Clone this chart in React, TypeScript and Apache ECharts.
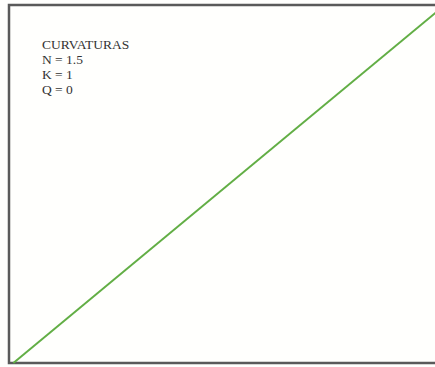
import React, { useEffect, useRef } from "react";
import * as echarts from "echarts";

// Curve points (normalised x, y)
const xValues = [0.01, 1];
const yValues = [0, 1];

// Annotation lines in the upper-left corner
const labelLines = ["CURVATURAS", "N = 1.5", "K = 1", "Q = 0"];

export default function App() {
  const ref = useRef<HTMLDivElement>(null);

  useEffect(() => {
    if (!ref.current) return;
    document.body.style.margin = "0";
    const chart = echarts.init(ref.current, null, { renderer: "svg" });
    const data = xValues.map((x, i) => [x, yValues[i]]);
    chart.setOption({
      animation: false,
      backgroundColor: "#fffffd",
      grid: {
        left: 9,
        top: 5,
        width: 436,
        height: 358,
        show: true,
        borderColor: "#5a5a5a",
        borderWidth: 2.5,
        backgroundColor: "transparent",
      },
      xAxis: {
        type: "value",
        min: 0,
        max: 1,
        axisLine: { show: false },
        axisTick: { show: false },
        axisLabel: { show: false },
        splitLine: { show: false },
      },
      yAxis: {
        type: "value",
        min: 0,
        max: 1,
        axisLine: { show: false },
        axisTick: { show: false },
        axisLabel: { show: false },
        splitLine: { show: false },
      },
      series: [
        {
          type: "line",
          data,
          symbol: "none",
          lineStyle: { color: "#62ae45", width: 2 },
        },
      ],
      graphic: labelLines.map((t, i) => ({
        type: "text",
        left: 42,
        top: 37 + i * 15,
        style: {
          text: t,
          fill: "#333333",
          font: '13.5px "Liberation Serif", "DejaVu Serif", serif',
        },
      })),
    });
    return () => chart.dispose();
  }, []);

  // The plot frame runs past the right edge of the visible area
  return (
    <div style={{ width: 435, height: 367, overflow: "hidden" }}>
      <div ref={ref} style={{ width: 450, height: 367 }} />
    </div>
  );
}
